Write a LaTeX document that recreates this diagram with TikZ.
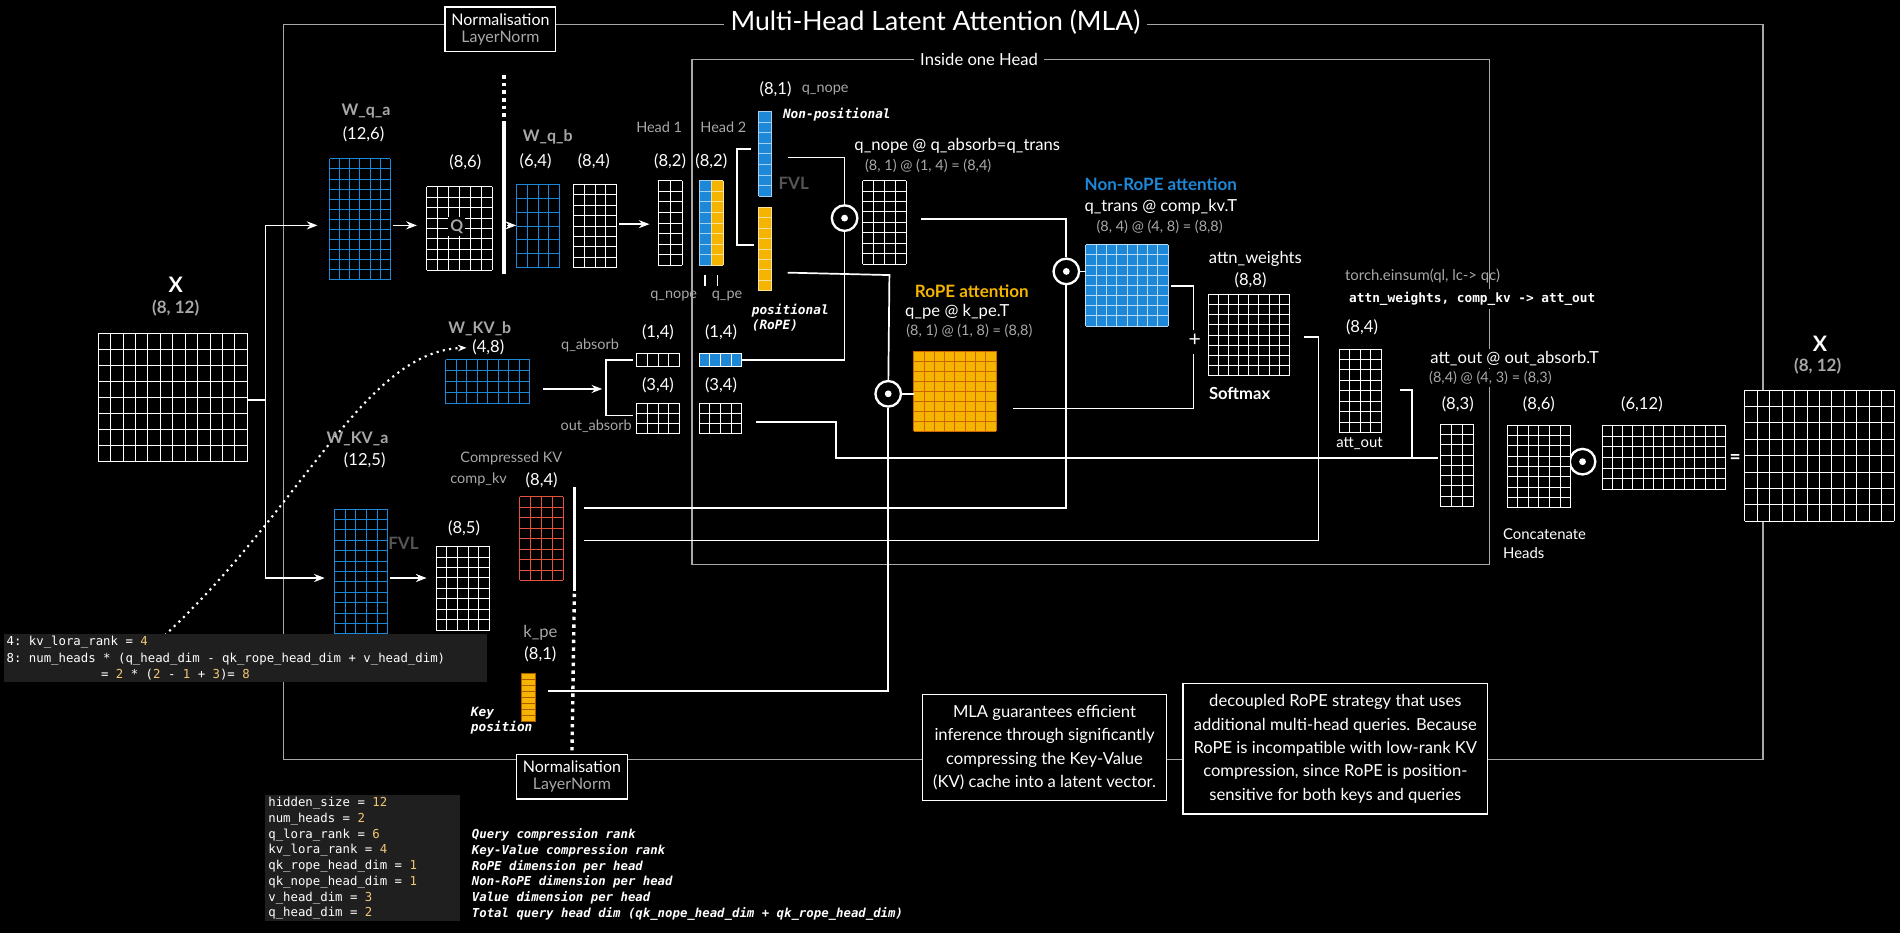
\documentclass[tikz,border=0pt]{standalone}
\usepackage{fontspec}
\setmainfont{Lato}
\setmonofont{DejaVu Sans Mono}
\usetikzlibrary{positioning,arrows.meta,calc}
\definecolor{lgray}{HTML}{A8A8A8}
\definecolor{fgray}{HTML}{555555}
\definecolor{mblue}{HTML}{1E88D8}
\definecolor{morange}{HTML}{F5B400}
\definecolor{ylw}{HTML}{F0C674}
\definecolor{kred}{HTML}{E5533D}
\tikzset{
  lbl/.style={text=white,font=\fontsize{7.8}{9}\selectfont,inner sep=0pt},
  glbl/.style={text=lgray,font=\fontsize{6.8}{8}\selectfont,inner sep=0pt},
  wlbl/.style={text=lgray,font=\bfseries\fontsize{7.5}{8}\selectfont,inner sep=0pt},
  code/.style={text=white,font=\ttfamily\fontsize{5.8}{6.8}\selectfont,inner sep=0pt,anchor=west,align=left},
  note/.style={draw=white,fill=black,text=white,font=\fontsize{7.8}{11}\selectfont,align=center,inner sep=5pt,line width=0.6pt},
  wire/.style={white,line width=0.8pt},
  arr/.style={wire,-{Stealth[length=5pt]}},
  odot/.style={circle,draw=white,fill=black,line width=1.1pt,minimum size=12,inner sep=0pt,
    path picture={\fill[white] (path picture bounding box.center) circle (1.6pt);}},
}
% x y cols rows width height linestyle fill
\newcommand\grd[8]{%
  \fill[#8] (#1,#2) rectangle ++(#5,#6);
  \foreach \i in {0,...,#3} \draw[#7] (#1+\i*#5/#3,#2) -- ++(0,#6);
  \foreach \j in {0,...,#4} \draw[#7] (#1,#2+\j*#6/#4) -- ++(#5,0);
}
\begin{document}
\begin{tikzpicture}[x=0.02cm,y=-0.02cm,line width=0.5pt]
\fill[black] (0,0) rectangle (1568,770);
\useasboundingbox (0,0) rectangle (1568,770);
% frames
\draw[lgray,line width=0.6pt] (234,20) rectangle (1455,627);
\draw[lgray,line width=0.6pt] (571,49) rectangle (1229,466);
\node[fill=black,text=white,font=\fontsize{12.5}{14}\selectfont,inner sep=3pt] (title) at (772,18) {Multi-Head Latent Attention (MLA)};
\node[fill=black,lbl,inner sep=3pt] (inhead) at (808,49) {Inside one Head};
\node[note,align=center,inner sep=3pt,font=\fontsize{7.5}{9}\selectfont] (normtop) at (413,24) {Normalisation\\[-1pt]\textcolor{lgray}{LayerNorm}};
\node[note,align=center,inner sep=3pt,font=\fontsize{7.5}{9}\selectfont] (normbot) at (472,641) {Normalisation\\[-1pt]\textcolor{lgray}{LayerNorm}};
\draw[white,line width=1.6pt,dotted] (416,62) -- (416,100);
\draw[white,line width=1.6pt] (416,100) -- (416,226);
\draw[white,line width=1.6pt] (474,402) -- (474,488);
\draw[white,line width=1.6pt,dotted] (474,490) -- (normbot.north);
% input X
\node[lbl,font=\bfseries\fontsize{10}{11}\selectfont] (xin) at (145,235) {X};
\node[lbl,text=lgray,font=\bfseries\fontsize{8}{9}\selectfont] at (145,254) {(8, 12)};
\grd{81}{275}{12}{8}{123}{106}{white,line width=0.4pt}{black}
\draw[wire] (205,330) -- (219,330);
\draw[wire] (219,186) -- (219,477);
\draw[arr] (219,186) -- (262,186);
\draw[arr] (219,477) -- (268,477);
% query path
\node[wlbl] at (302,92) {W\_q\_a};
\node[lbl] at (300,111) {(12,6)};
\grd{272}{131}{6}{12}{50}{100}{mblue,line width=0.4pt}{black}
\draw[arr] (324,186) -- (344,186);
\node[lbl] at (384,134) {(8,6)};
\grd{352}{154}{6}{8}{54}{69}{white,line width=0.4pt}{black}
\node[fill=black,inner sep=1pt,text=lgray,font=\bfseries\fontsize{7.5}{8}\selectfont] at (377,187) {Q};
\draw[arr] (418,186) -- (426,186);
\node[wlbl] at (452,113) {W\_q\_b};
\node[lbl] at (442,133) {(6,4)};
\grd{426}{152}{4}{6}{36}{69}{mblue,line width=0.4pt}{black}
\node[lbl] at (490,133) {(8,4)};
\grd{473}{152}{4}{8}{36}{69}{white,line width=0.4pt}{black}
\draw[arr] (511,185) -- (536,185);
\node[glbl] at (544,105) {Head 1};
\node[glbl] at (597,105) {Head 2};
\node[lbl] at (553,133) {(8,2)};
\node[lbl] at (587,133) {(8,2)};
\grd{543}{149}{2}{8}{20}{70}{white,line width=0.4pt}{black}
\grd{577}{149}{1}{8}{10}{70}{white!60!mblue,line width=0.4pt}{mblue}
\grd{587}{149}{1}{8}{10}{70}{white!60!morange,line width=0.4pt}{morange}
\draw[white,line width=0.8pt] (582,227) -- (582,236) (592,227) -- (592,236);
\node[glbl] at (556,244) {q\_nope};
\node[glbl] at (600,244) {q\_pe};
\draw[wire] (620,123) -- (608,123) -- (608,202) -- (622,202);
\node[lbl] at (640,74) {(8,1)};
\node[glbl] at (681,74) {q\_nope};
\node[lbl,anchor=west,fill=black,inner sep=1pt,font=\ttfamily\bfseries\itshape\fontsize{6}{7}\selectfont] at (644,95) {Non-positional};
\grd{626}{92}{1}{8}{11}{70}{white!60!mblue,line width=0.4pt}{mblue}
\node[glbl,text=fgray,font=\bfseries\fontsize{8}{9}\selectfont] at (655,151) {FVL};
\grd{626}{171}{1}{8}{11}{69}{white!60!morange,line width=0.4pt}{morange}
\node[lbl,font=\ttfamily\bfseries\itshape\fontsize{6}{7}\selectfont,align=left,anchor=west] at (620,262) {positional\\(RoPE)};
% absorb
\node[wlbl] at (396,271) {W\_KV\_b};
\node[lbl] at (403,287) {(4,8)};
\draw[white,-{Stealth[length=4pt]},dotted,line width=1pt] (132,528) .. controls (250,420) and (300,290) .. (385,287);
\grd{368}{297}{8}{4}{69}{36}{mblue,line width=0.4pt}{black}
\draw[arr] (448,321) -- (497,321);
\draw[wire] (522,297) -- (500,297) -- (500,343) -- (522,343);
\node[glbl] at (487,285) {q\_absorb};
\node[glbl] at (492,352) {out\_absorb};
\node[lbl] at (543,274) {(1,4)};
\grd{525}{292}{4}{1}{36}{10}{white,line width=0.4pt}{black}
\node[lbl] at (543,318) {(3,4)};
\grd{525}{333}{4}{3}{36}{25}{white,line width=0.4pt}{black}
\node[lbl] at (595,274) {(1,4)};
\grd{577}{292}{4}{1}{35}{10}{white,line width=0.4pt}{mblue}
\node[lbl] at (595,318) {(3,4)};
\grd{577}{333}{4}{3}{35}{25}{white,line width=0.4pt}{black}
% ops
\node[odot] (m1) at (697,180) {};
\node[odot] (m2) at (880,224) {};
\node[odot] (m3) at (733,325) {};
\node[odot] (m4) at (1306,381) {};
\draw[wire] (650,130) -- (697,130) -- (m1);
\draw[wire] (612,297) -- (697,297) -- (m1);
\draw[wire] (650,225) -- (734,227) -- (m3);
\node[lbl] at (790,120) {q\_nope @ q\_absorb=q\_trans};
\node[glbl] at (766,137) {(8, 1) @ (1, 4) = (8,4)};
\grd{712}{149}{4}{8}{36}{69}{white,line width=0.4pt}{black}
\draw[wire] (760,181) -- (880,181) -- (m2);
\node[lbl,text=mblue,font=\bfseries\fontsize{8}{9}\selectfont] at (958,152) {Non-RoPE attention};
\node[lbl] at (958,171) {q\_trans @ comp\_kv.T};
\node[glbl] at (957,187) {(8, 4) @ (4, 8) = (8,8)};
\grd{896}{202}{8}{8}{68}{67}{white!70!mblue,line width=0.4pt}{mblue}
\draw[wire] (m2) -- (896,224);
\node[lbl,text=morange,font=\bfseries\fontsize{8}{9}\selectfont] at (802,240) {RoPE attention};
\node[lbl] at (790,257) {q\_pe @ k\_pe.T};
\node[glbl] at (800,273) {(8, 1) @ (1, 8) = (8,8)};
\grd{754}{290}{8}{8}{68}{66}{orange!80!black,line width=0.4pt}{morange}
\draw[wire] (m3) -- (754,325);
\draw[wire] (966,236) -- (985,236) -- (985,272);
\draw[wire] (836,337) -- (985,337) -- (985,292);
\node[lbl,font=\fontsize{10}{11}\selectfont] (plus) at (986,281) {+};
\node[lbl] at (1036,214) {attn\_weights};
\node[lbl] at (1032,231) {(8,8)};
\grd{997}{243}{8}{8}{67}{67}{white,line width=0.4pt}{black}
\node[lbl,font=\bfseries\fontsize{7.8}{9}\selectfont] at (1023,325) {Softmax};
\node[glbl,font=\fontsize{7}{8}\selectfont] at (1174,228) {torch.einsum(ql, lc-> qc)};
\node[lbl,font=\ttfamily\bfseries\fontsize{6}{7}\selectfont,fill=black,inner sep=1.5pt] at (1215,247) {attn\_weights, comp\_kv -> att\_out};
\node[lbl] at (1124,270) {(8,4)};
\grd{1105}{288}{4}{8}{35}{69}{white,line width=0.4pt}{black}
\node[lbl,font=\fontsize{7}{8}\selectfont] at (1122,366) {att\_out};
\draw[wire] (1155,322) -- (1165,322) -- (1165,378) -- (1187,378);
\node[lbl,fill=black,inner sep=1pt] at (1250,296) {att\_out @ out\_absorb.T};
\node[glbl,fill=black,inner sep=1pt] at (1230,312) {(8,4) @ (4, 3) = (8,3)};
\node[lbl] at (1203,334) {(8,3)};
\grd{1189}{350}{3}{8}{27}{68}{white,line width=0.4pt}{black}
\node[lbl] at (1270,334) {(8,6)};
\grd{1244}{351}{6}{8}{52}{68}{white,line width=0.4pt}{black}
\node[lbl] at (1355,334) {(6,12)};
\grd{1322}{351}{12}{6}{102}{53}{white,line width=0.4pt}{black}
\node[lbl,font=\bfseries\fontsize{9}{10}\selectfont] at (1432,379) {=};
\node[lbl,font=\bfseries\fontsize{10}{11}\selectfont] (xout) at (1502,284) {X};
\node[lbl,text=lgray,font=\bfseries\fontsize{8}{9}\selectfont] at (1500,302) {(8, 12)};
\grd{1440}{322}{12}{8}{123}{108}{white,line width=0.4pt}{black}
\node[lbl,anchor=west,align=left,font=\fontsize{7}{9}\selectfont] at (1240,449) {Concatenate\\Heads};
% latent kv path
\node[wlbl] at (295,362) {W\_KV\_a};
\node[lbl] at (301,380) {(12,5)};
\grd{276}{420}{5}{12}{44}{103}{mblue,line width=0.4pt}{black}
\node[glbl,text=fgray,font=\bfseries\fontsize{8}{9}\selectfont] at (333,448) {FVL};
\draw[arr] (322,477) -- (352,477);
\node[lbl] at (383,436) {(8,5)};
\grd{360}{451}{5}{8}{44}{69}{white,line width=0.4pt}{black}
\node[glbl] at (422,378) {Compressed KV};
\node[glbl] at (395,396) {comp\_kv};
\node[lbl] at (447,396) {(8,4)};
\grd{429}{410}{4}{8}{36}{69}{kred,line width=0.4pt}{black}
\draw[wire] (482,419) -- (880,419) -- (m2);
\draw[wire] (482,446) -- (1088,446) -- (1088,278) -- (1076,278);
\draw[wire] (624,348) -- (690,348) -- (690,378) -- (1187,378);
\node[lbl,text=lgray] at (446,522) {k\_pe};
\node[lbl] at (446,540) {(8,1)};
\grd{430}{556}{1}{8}{12}{39}{orange!70!black,line width=0.4pt}{morange}
\node[lbl,font=\ttfamily\bfseries\itshape\fontsize{6}{7}\selectfont,align=left] at (414,595) {Key\\position};
\draw[wire] (452,570) -- (733,570) -- (m3);
% notes
\node[note] (mla) at (862,617) {MLA guarantees efficient\\inference through significantly\\compressing the Key-Value\\(KV) cache into a latent vector.};
\node[note] (rope) at (1102,618) {decoupled RoPE strategy that uses\\additional multi-head queries. Because\\RoPE is incompatible with low-rank KV\\compression, since RoPE is position-\\sensitive for both keys and queries};
% code
\fill[black!88!white] (3,523) rectangle (402,563);
\node[code] at (5,530) {4: kv\_lora\_rank = \textcolor{ylw}{4}};
\node[code] at (5,544) {8: num\_heads * (q\_head\_dim - qk\_rope\_head\_dim + v\_head\_dim)};
\node[code] at (83,557) {= \textcolor{ylw}{2} * (\textcolor{ylw}{2} - \textcolor{ylw}{1} + \textcolor{ylw}{3})= \textcolor{ylw}{8}};
\fill[black!88!white] (219,656) rectangle (380,760);
\foreach \t/\v/\c [count=\k from 0] in {
  hidden\_size/12/,
  num\_heads/2/,
  q\_lora\_rank/6/Query compression rank,
  kv\_lora\_rank/4/Key-Value compression rank,
  qk\_rope\_head\_dim/1/RoPE dimension per head,
  qk\_nope\_head\_dim/1/Non-RoPE dimension per head,
  v\_head\_dim/3/Value dimension per head,
  q\_head\_dim/2/Total query head dim (qk\_nope\_head\_dim + qk\_rope\_head\_dim)} {
  \node[code] at (221,663+13*\k) {\t{} = \textcolor{ylw}{\v}};
  \node[code,font=\ttfamily\bfseries\itshape\fontsize{5.8}{6.8}\selectfont] at (389,663+13*\k) {\c};
}
\end{tikzpicture}
\end{document}
